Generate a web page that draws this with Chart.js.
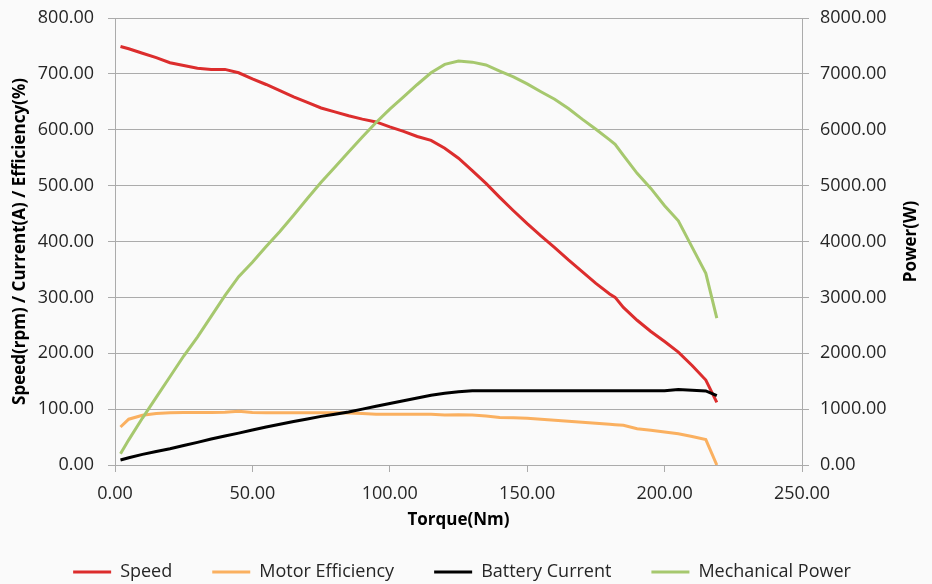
<!DOCTYPE html>
<html>
<head>
<meta charset="utf-8">
<title>Motor curves</title>
<script src="https://cdn.jsdelivr.net/npm/chart.js@4.4.1/dist/chart.umd.min.js"></script>
<style>
  body { margin: 0; background: #fafafa; }
  canvas { display: block; }
</style>
</head>
<body>
<canvas id="grafico" width="932" height="584"></canvas>
<script>
// datos
const torque = [2, 5, 10, 15, 20, 25, 30, 35, 40, 45, 50, 55, 60, 65, 70, 75, 80, 85, 90, 95,
  100, 105, 110, 115, 120, 125, 130, 135, 140, 145, 150, 155, 160, 165, 170, 175, 180, 182, 185, 190,
  195, 200, 205, 210, 215, 219];

const speed = [749, 745, 737, 729, 720, 715, 710, 708, 708, 702, 691, 681, 670, 659, 649, 639, 632, 625, 619, 614,
  605, 597, 588, 581, 567, 549, 527, 504, 479, 455, 432, 410, 389, 367, 346, 325, 306, 300, 282, 259,
  239, 221, 202, 178, 152, 112];

const efficiency = [68, 82, 89, 92, 93.5, 94, 94, 94, 94.5, 96, 94, 93.5, 93.5, 93.5, 93.5, 93.5, 93.5, 93, 92, 91,
  91, 91, 91, 91, 89.5, 90, 89.5, 87.5, 85, 84.5, 83.5, 81.8, 80, 78.2, 76.4, 74.6, 72.8, 72, 71, 65,
  62, 59, 56, 51, 45.5, 0];

const current = [9, 13, 19, 24, 29, 35, 40.5, 46.5, 52, 57, 62.5, 68, 73, 78, 82.5, 87, 91, 95, 100, 105,
  110, 115, 120, 125, 128.5, 131, 133, 133, 133, 133, 133, 133, 133, 133, 133, 133, 133, 133, 133, 133,
  133, 133, 135, 134, 132.5, 124];

const power = [200, 450, 840, 1210, 1580, 1950, 2290, 2660, 3030, 3370, 3630, 3910, 4180, 4470, 4770, 5060, 5330, 5600, 5870, 6130,
  6370, 6590, 6810, 7020, 7170, 7230, 7210, 7160, 7050, 6945, 6820, 6680, 6545, 6380, 6190, 6010, 5820, 5740, 5540, 5220,
  4950, 4640, 4370, 3900, 3430, 2630];

const xTicks = [0, 50, 100, 150, 200, 250];
const leftTicks = [0, 100, 200, 300, 400, 500, 600, 700, 800];
const rightTicks = [0, 1000, 2000, 3000, 4000, 5000, 6000, 7000, 8000];

const gris = '#ababab';

Chart.defaults.font.family = "'Open Sans', sans-serif";
Chart.defaults.font.size = 18;
Chart.defaults.color = '#262626';

function puntos(valores) {
  return torque.map((t, i) => ({ x: t, y: valores[i] }));
}

function serie(label, valores, color, eje, orden) {
  return {
    label: label,
    data: puntos(valores),
    borderColor: color,
    backgroundColor: color,
    borderWidth: 3,
    pointRadius: 0,
    tension: 0,
    yAxisID: eje,
    order: orden
  };
}

function fijarTicks(lista) {
  return scale => { scale.ticks = lista.map(v => ({ value: v })); };
}

// ancho fijo del eje vertical, sin el margen extra arriba/abajo
function anchoEje(ancho) {
  return scale => {
    scale.width = ancho;
    scale.paddingTop = 0;
    scale.paddingBottom = 0;
  };
}

const tituloFont = { size: 17, weight: 'bold' };

// titulo del eje derecho, leido de abajo hacia arriba como en excel
// y la leyenda un poco a la izquierda
const extras = {
  id: 'extras',
  afterLayout(chart) {
    chart.legend.left -= 4;
    chart.legend.right -= 4;
  },
  afterDraw(chart) {
    const c = chart.ctx;
    const area = chart.chartArea;
    c.save();
    c.translate(911, (area.top + area.bottom) / 2);
    c.rotate(-Math.PI / 2);
    c.font = "bold 17px 'Open Sans', sans-serif";
    c.fillStyle = '#000';
    c.textAlign = 'center';
    c.textBaseline = 'middle';
    c.fillText('Power(W)', 0, 0);
    c.restore();
  }
};

const ctx = document.getElementById('grafico').getContext('2d');

new Chart(ctx, {
  type: 'line',
  data: {
    datasets: [
      serie('Speed', speed, '#dc2d2d', 'y', 3),
      serie('Motor Efficiency', efficiency, '#fab060', 'y', 2),
      serie('Battery Current', current, '#000000', 'y', 1),
      serie('Mechanical Power', power, '#a6c86e', 'y2', 0)
    ]
  },
  options: {
    responsive: false,
    animation: false,
    layout: { padding: { top: 18, right: 0, bottom: -7, left: 0 } },
    scales: {
      x: {
        type: 'linear',
        min: xTicks[0],
        max: xTicks[xTicks.length - 1],
        afterBuildTicks: fijarTicks(xTicks),
        afterFit: scale => { scale.height = 58; },
        grid: { drawOnChartArea: false, color: gris, tickLength: 7 },
        border: { color: gris },
        ticks: { padding: 11, maxRotation: 0, callback: v => v.toFixed(2) },
        title: { display: true, text: 'Torque(Nm)', color: '#000', font: tituloFont, padding: { top: 0, bottom: -7 } }
      },
      y: {
        position: 'left',
        min: leftTicks[0],
        max: leftTicks[leftTicks.length - 1],
        afterBuildTicks: fijarTicks(leftTicks),
        afterFit: anchoEje(115),
        grid: { color: gris, tickLength: 7 },
        border: { color: gris },
        ticks: { padding: 14, callback: v => v.toFixed(2) },
        title: { display: true, text: 'Speed(rpm) / Current(A) / Efficiency(%)', color: '#000', font: tituloFont, padding: { top: 10, bottom: 0 } }
      },
      y2: {
        position: 'right',
        min: rightTicks[0],
        max: rightTicks[rightTicks.length - 1],
        afterBuildTicks: fijarTicks(rightTicks),
        afterFit: anchoEje(130),
        grid: { drawOnChartArea: false, color: gris, tickLength: 7 },
        border: { color: gris },
        ticks: { padding: 11, callback: v => v.toFixed(2) },
        title: { display: false }
      }
    },
    plugins: {
      legend: {
        position: 'bottom',
        labels: {
          boxWidth: 38,
          boxHeight: 0,
          padding: 40,
          sort: (a, b) => a.datasetIndex - b.datasetIndex
        }
      },
      tooltip: { enabled: false }
    }
  },
  plugins: [extras]
});
</script>
</body>
</html>
